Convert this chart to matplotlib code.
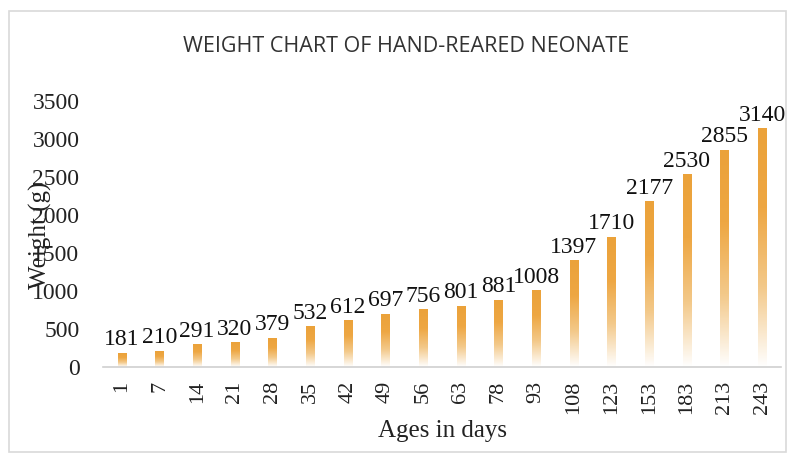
import numpy as np
import matplotlib
matplotlib.use("Agg")
import matplotlib.pyplot as plt
from matplotlib.patches import Rectangle
from matplotlib.colors import LinearSegmentedColormap

ages = ["1", "7", "14", "21", "28", "35", "42", "49", "56", "63", "78", "93",
        "108", "123", "153", "183", "213", "243"]
weights = [181, 210, 291, 320, 379, 532, 612, 697, 756, 801, 881, 1008,
           1397, 1710, 2177, 2530, 2855, 3140]
yticks = [0, 500, 1000, 1500, 2000, 2500, 3000, 3500]

W, H = 788, 455
fig = plt.figure(figsize=(W / 100, H / 100), dpi=100)
ax = fig.add_axes([103 / W, 1 - 367 / H, (781 - 103) / W, (367 - 101) / H])

serif = "Liberation Serif"
x = np.arange(len(ages))
bw = 0.22
cmap = LinearSegmentedColormap.from_list("g", ["#ffffff", "#f3c98a", "#eea743", "#eba23a"])
grad = np.linspace(0, 1, 256).reshape(-1, 1)
for xi, v in zip(x, weights):
    ax.imshow(grad, extent=(xi - bw / 2, xi + bw / 2, 0, v), origin="lower",
              cmap=cmap, aspect="auto", zorder=2, interpolation="bilinear")
    ax.annotate(str(v), (xi, v), xytext=(0, 2), textcoords="offset points",
                ha="center", va="bottom", fontsize=17, family=serif, color="#111111",
                annotation_clip=False)

ax.set_xlim(-0.5, len(ages) - 0.5)
ax.set_ylim(0, 3500)
ax.set_yticks(yticks)
ax.set_yticklabels([str(t) for t in yticks], fontsize=17, family=serif, color="#222222")
ax.set_xticks(x)
ax.set_xticklabels(ages, rotation=90, fontsize=16, family=serif, color="#222222")
ax.tick_params(length=0)
ax.tick_params(axis="y", pad=17)
ax.tick_params(axis="x", pad=10)
for s in ["left", "right", "top"]:
    ax.spines[s].set_visible(False)
ax.spines["bottom"].set_color("#d0d0d0")
ax.spines["bottom"].set_linewidth(1.2)

ax.set_xlabel("Ages in days", fontsize=18, family=serif, color="#222222", labelpad=4)
fig.text(40 / W, 1 - 235 / H, "Weight (g)", rotation=90, ha="center", va="center",
         fontsize=18, family=serif, color="#222222")
fig.text(406 / W, 1 - 47 / H, "WEIGHT CHART OF HAND-REARED NEONATE", ha="center",
         va="center", fontsize=15.5, family="Open Sans", color="#333333")

fig.patches.append(Rectangle((9 / W, 3 / H), (786 - 9) / W, (444 - 3) / H,
                             transform=fig.transFigure, fill=False,
                             edgecolor="#d9d9d9", linewidth=1.2))
fig.savefig("out.png", dpi=100)
